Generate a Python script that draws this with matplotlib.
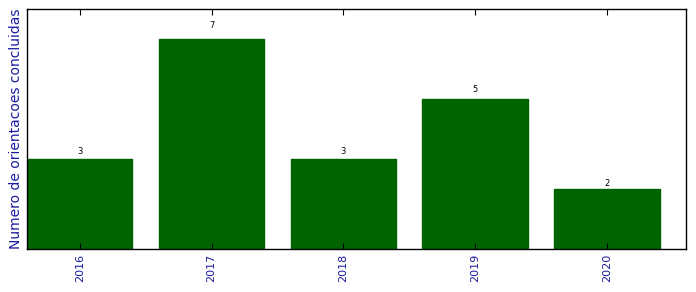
import matplotlib
matplotlib.use("Agg")

import matplotlib.pyplot as plt

years = ["2016", "2017", "2018", "2019", "2020"]
counts = [3, 7, 3, 5, 2]

fig = plt.figure(figsize=(6.96, 2.92), dpi=100)
ax = fig.add_axes([27 / 696, 43 / 292, 659 / 696, 240 / 292])

positions = list(range(len(years)))
bars = ax.bar(positions, counts, width=0.8, color="#006400", edgecolor="#006400")

for bar, value in zip(bars, counts):
    h = bar.get_height()
    ax.text(bar.get_x() + bar.get_width() / 2.0, 1.05 * h, "%d" % int(value),
            ha="center", va="baseline", fontsize=6)

ax.set_xlim(-0.4, 4.6)
ax.set_ylim(0, 8)
ax.set_xticks(positions)
ax.set_xticklabels(years, rotation=90, color="#1a1aa0", fontsize=8)
ax.set_yticks([])
ax.tick_params(axis="x", direction="in", top=True, length=4, width=0.8)
ax.set_ylabel("Numero de orientacoes concluidas", color="#1a1aa0", fontsize=10, labelpad=3)

for spine in ax.spines.values():
    spine.set_linewidth(1.0)

fig.savefig("out.png", dpi=100)
